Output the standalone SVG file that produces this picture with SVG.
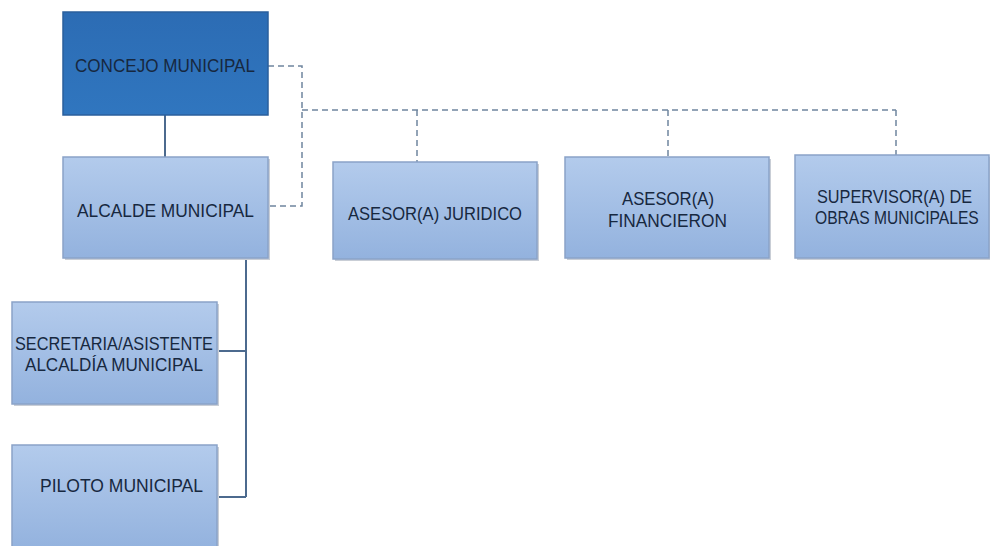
<svg xmlns="http://www.w3.org/2000/svg" width="991" height="546" viewBox="0 0 991 546">
  <defs>
    <linearGradient id="light" x1="0" y1="0" x2="0" y2="1">
      <stop offset="0" stop-color="#B3CBEC"/>
      <stop offset="1" stop-color="#93B2DE"/>
    </linearGradient>
    <linearGradient id="dark" x1="0" y1="0" x2="0" y2="1">
      <stop offset="0" stop-color="#2C6CB4"/>
      <stop offset="1" stop-color="#3076BF"/>
    </linearGradient>
  </defs>
  <style>
    .box { fill: url(#light); stroke: #8AA3C8; stroke-width: 1.5; }
    .top { fill: url(#dark); stroke: #2A5F9C; stroke-width: 1.5; }
    .shadow { fill: #C9CED6; }
    .lbl { font-family: "Liberation Sans", Arial, sans-serif; font-size: 18.5px; fill: #17283F; }
    .solid { fill: none; stroke: #4C6A8E; stroke-width: 2; }
    .dash { fill: none; stroke: #6F859E; stroke-width: 1.5; stroke-dasharray: 6 4; }
  </style>
  <rect width="991" height="546" fill="#FFFFFF"/>

  <g id="connectors">
    <path class="solid" d="M165,115 V157"/>
    <path class="solid" d="M246,258 V497 M217,351 H246 M217,497 H246"/>
    <path class="dash" d="M268,66 H302 V206 H268"/>
    <path class="dash" d="M302,110 H896"/>
    <path class="dash" d="M417,110 V162 M668,110 V157 M896,110 V155"/>
  </g>

  <g id="concejo">
    <rect class="top" x="63" y="12" width="205" height="103"/>
    <text class="lbl" x="75" y="72" textLength="180" lengthAdjust="spacingAndGlyphs">CONCEJO MUNICIPAL</text>
  </g>

  <g id="alcalde">
    <rect class="shadow" x="65" y="159" width="205" height="101"/>
    <rect class="box" x="63" y="157" width="205" height="101"/>
    <text class="lbl" x="77" y="217" textLength="177" lengthAdjust="spacingAndGlyphs">ALCALDE MUNICIPAL</text>
  </g>

  <g id="juridico">
    <rect class="shadow" x="335" y="164" width="204" height="97"/>
    <rect class="box" x="333" y="162" width="204" height="97"/>
    <text class="lbl" x="348" y="220" textLength="174" lengthAdjust="spacingAndGlyphs">ASESOR(A) JURIDICO</text>
  </g>

  <g id="financiero">
    <rect class="shadow" x="567" y="159" width="204" height="101"/>
    <rect class="box" x="565" y="157" width="204" height="101"/>
    <text class="lbl" x="622" y="205" textLength="92" lengthAdjust="spacingAndGlyphs">ASESOR(A)</text>
    <text class="lbl" x="608" y="227" textLength="119" lengthAdjust="spacingAndGlyphs">FINANCIERON</text>
  </g>

  <g id="supervisor">
    <rect class="shadow" x="797" y="157" width="193" height="103"/>
    <rect class="box" x="795" y="155" width="194" height="103"/>
    <text class="lbl" transform="translate(817,203) scale(0.88,1)">SUPERVISOR(A) DE</text>
    <text class="lbl" transform="translate(815,224) scale(0.845,1)">OBRAS MUNICIPALES</text>
  </g>

  <g id="secretaria">
    <rect class="shadow" x="14" y="304" width="205" height="102"/>
    <rect class="box" x="12" y="302" width="205" height="102"/>
    <text class="lbl" x="15" y="350" textLength="198" lengthAdjust="spacingAndGlyphs">SECRETARIA/ASISTENTE</text>
    <text class="lbl" x="25" y="371" textLength="178" lengthAdjust="spacingAndGlyphs">ALCALDÍA MUNICIPAL</text>
  </g>

  <g id="piloto">
    <rect class="shadow" x="14" y="447" width="205" height="105"/>
    <rect class="box" x="12" y="445" width="205" height="105"/>
    <text class="lbl" x="40" y="492" textLength="163" lengthAdjust="spacingAndGlyphs">PILOTO MUNICIPAL</text>
  </g>
</svg>
